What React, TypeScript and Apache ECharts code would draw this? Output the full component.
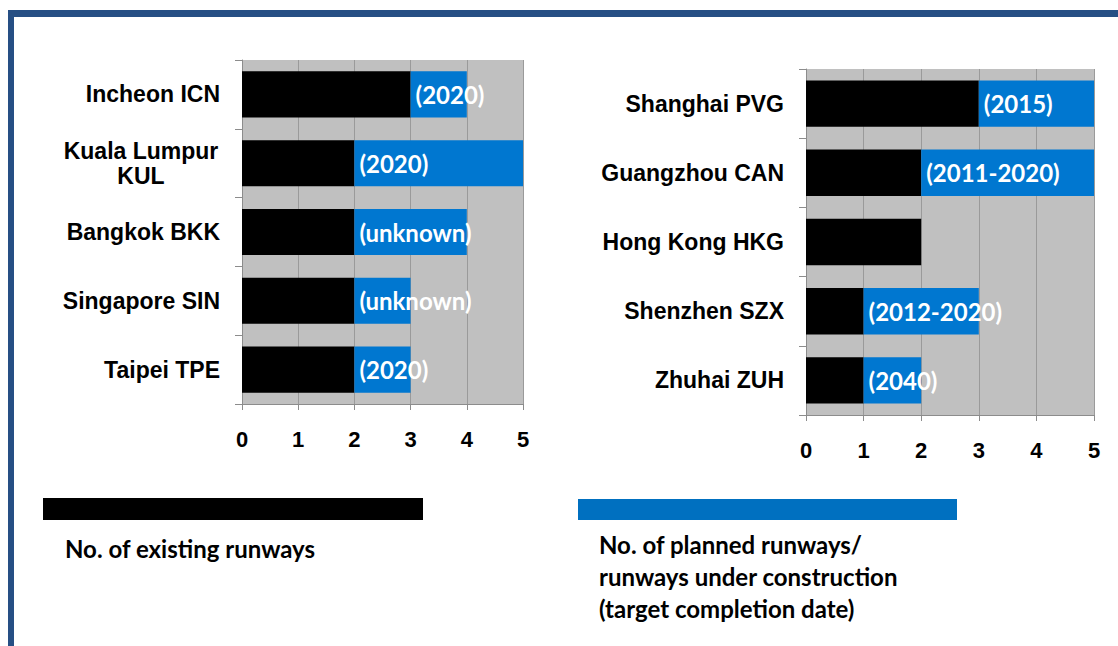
import React, { useEffect, useRef } from "react";
import * as echarts from "echarts";

const leftCategories = ["Incheon ICN", "Kuala Lumpur\nKUL", "Bangkok BKK", "Singapore SIN", "Taipei TPE"];
const leftExisting = [3, 2, 2, 2, 2];
const leftPlanned = [1, 3, 2, 1, 1];
const leftDates = ["(2020)", "(2020)", "(unknown)", "(unknown)", "(2020)"];

const rightCategories = ["Shanghai PVG", "Guangzhou CAN", "Hong Kong HKG", "Shenzhen SZX", "Zhuhai ZUH"];
const rightExisting = [3, 2, 2, 1, 1];
const rightPlanned = [2, 3, 0, 2, 1];
const rightDates = ["(2015)", "(2011-2020)", "", "(2012-2020)", "(2040)"];

const axisMin = 0;
const axisMax = 5;
const tickStep = 1;

const legendExisting = "No. of existing runways";
const legendPlanned = ["No. of planned runways/", "runways under construction", "(target completion date)"];

const ARIAL = "'Liberation Sans', Arial, sans-serif";
const CAL = "Lato, 'Open Sans', sans-serif";
const BLUE = "#0077D0";
const FRAME = "#264F84";

export default function App() {
  const ref = useRef<HTMLDivElement>(null);
  useEffect(() => {
    if (!ref.current) return;
    const chart = echarts.init(ref.current, undefined, { renderer: "svg" });

    const catLabel = {
      fontFamily: ARIAL,
      fontWeight: "bold",
      fontSize: 23,
      color: "#000",
      margin: 22,
      formatter: (v: string) =>
        v.includes("\n") ? v.split("\n").map((s) => `{c|${s}}`).join("\n") : v,
      rich: {
        c: {
          width: 158,
          align: "center",
          fontFamily: ARIAL,
          fontWeight: "bold",
          fontSize: 23,
          lineHeight: 25,
          color: "#000",
        },
      },
    };

    const xAxisCommon = (gridIndex: number) => ({
      type: "value",
      gridIndex,
      min: axisMin,
      max: axisMax,
      interval: tickStep,
      axisLine: { show: true, lineStyle: { color: "#8c8c8c", width: 1 } },
      axisTick: { show: true, length: 6, lineStyle: { color: "#8c8c8c" } },
      splitLine: { show: true, lineStyle: { color: "#9a9a9a", width: 1 } },
      axisLabel: {
        fontFamily: ARIAL,
        fontWeight: "bold",
        fontSize: 22,
        color: "#000",
        margin: 24,
      },
    });

    const yAxisCommon = (gridIndex: number, data: string[]) => ({
      type: "category",
      gridIndex,
      data,
      inverse: true,
      axisLine: { show: true, lineStyle: { color: "#8c8c8c", width: 1 } },
      axisTick: { show: true, length: 7, lineStyle: { color: "#8c8c8c" } },
      splitLine: { show: false },
      axisLabel: catLabel,
    });

    const plannedLabel = (dates: string[]) => ({
      show: true,
      position: "insideLeft",
      distance: 5,
      color: "#fff",
      fontFamily: CAL,
      fontWeight: "bold",
      fontSize: 24,
      overflow: "none",
      formatter: (p: any) => dates[p.dataIndex] || "",
    });

    const option: any = {
      animation: false,
      grid: [
        { left: 242, top: 60, width: 281, height: 344, show: true, backgroundColor: "#C0C0C0", borderWidth: 0 },
        { left: 806, top: 69, width: 288, height: 346, show: true, backgroundColor: "#C0C0C0", borderWidth: 0 },
      ],
      xAxis: [xAxisCommon(0), xAxisCommon(1)],
      yAxis: [yAxisCommon(0, leftCategories), yAxisCommon(1, rightCategories)],
      series: [
        {
          type: "bar",
          name: "existing-left",
          xAxisIndex: 0,
          yAxisIndex: 0,
          stack: "l",
          data: leftExisting,
          barCategoryGap: "33%",
          itemStyle: { color: "#000" },
        },
        {
          type: "bar",
          name: "planned-left",
          xAxisIndex: 0,
          yAxisIndex: 0,
          stack: "l",
          data: leftPlanned,
          barCategoryGap: "33%",
          itemStyle: { color: BLUE },
          label: plannedLabel(leftDates),
        },
        {
          type: "bar",
          name: "existing-right",
          xAxisIndex: 1,
          yAxisIndex: 1,
          stack: "r",
          data: rightExisting,
          barCategoryGap: "33%",
          itemStyle: { color: "#000" },
        },
        {
          type: "bar",
          name: "planned-right",
          xAxisIndex: 1,
          yAxisIndex: 1,
          stack: "r",
          data: rightPlanned,
          barCategoryGap: "33%",
          itemStyle: { color: BLUE },
          label: plannedLabel(rightDates),
        },
      ],
      graphic: [
        { type: "rect", shape: { x: 8, y: 10, width: 1110, height: 7 }, style: { fill: FRAME } },
        { type: "rect", shape: { x: 8, y: 10, width: 6, height: 636 }, style: { fill: FRAME } },
        { type: "rect", shape: { x: 43, y: 498, width: 380, height: 22 }, style: { fill: "#000" } },
        { type: "rect", shape: { x: 578, y: 499, width: 379, height: 21 }, style: { fill: "#0070C0" } },
        {
          type: "text",
          x: 65,
          y: 548,
          style: {
            text: legendExisting,
            fill: "#000",
            font: `bold 24px ${CAL}`,
            textVerticalAlign: "middle",
          },
        },
        ...legendPlanned.map((t, i) => ({
          type: "text",
          x: 599,
          y: 544 + i * 32,
          style: {
            text: t,
            fill: "#000",
            font: `bold 24px ${CAL}`,
            textVerticalAlign: "middle",
          },
        })),
      ],
    };

    chart.setOption(option);
    return () => chart.dispose();
  }, []);

  return (
    <div
      ref={ref}
      style={{ position: "fixed", left: 0, top: 0, width: 1118, height: 646, background: "#fff" }}
    />
  );
}
